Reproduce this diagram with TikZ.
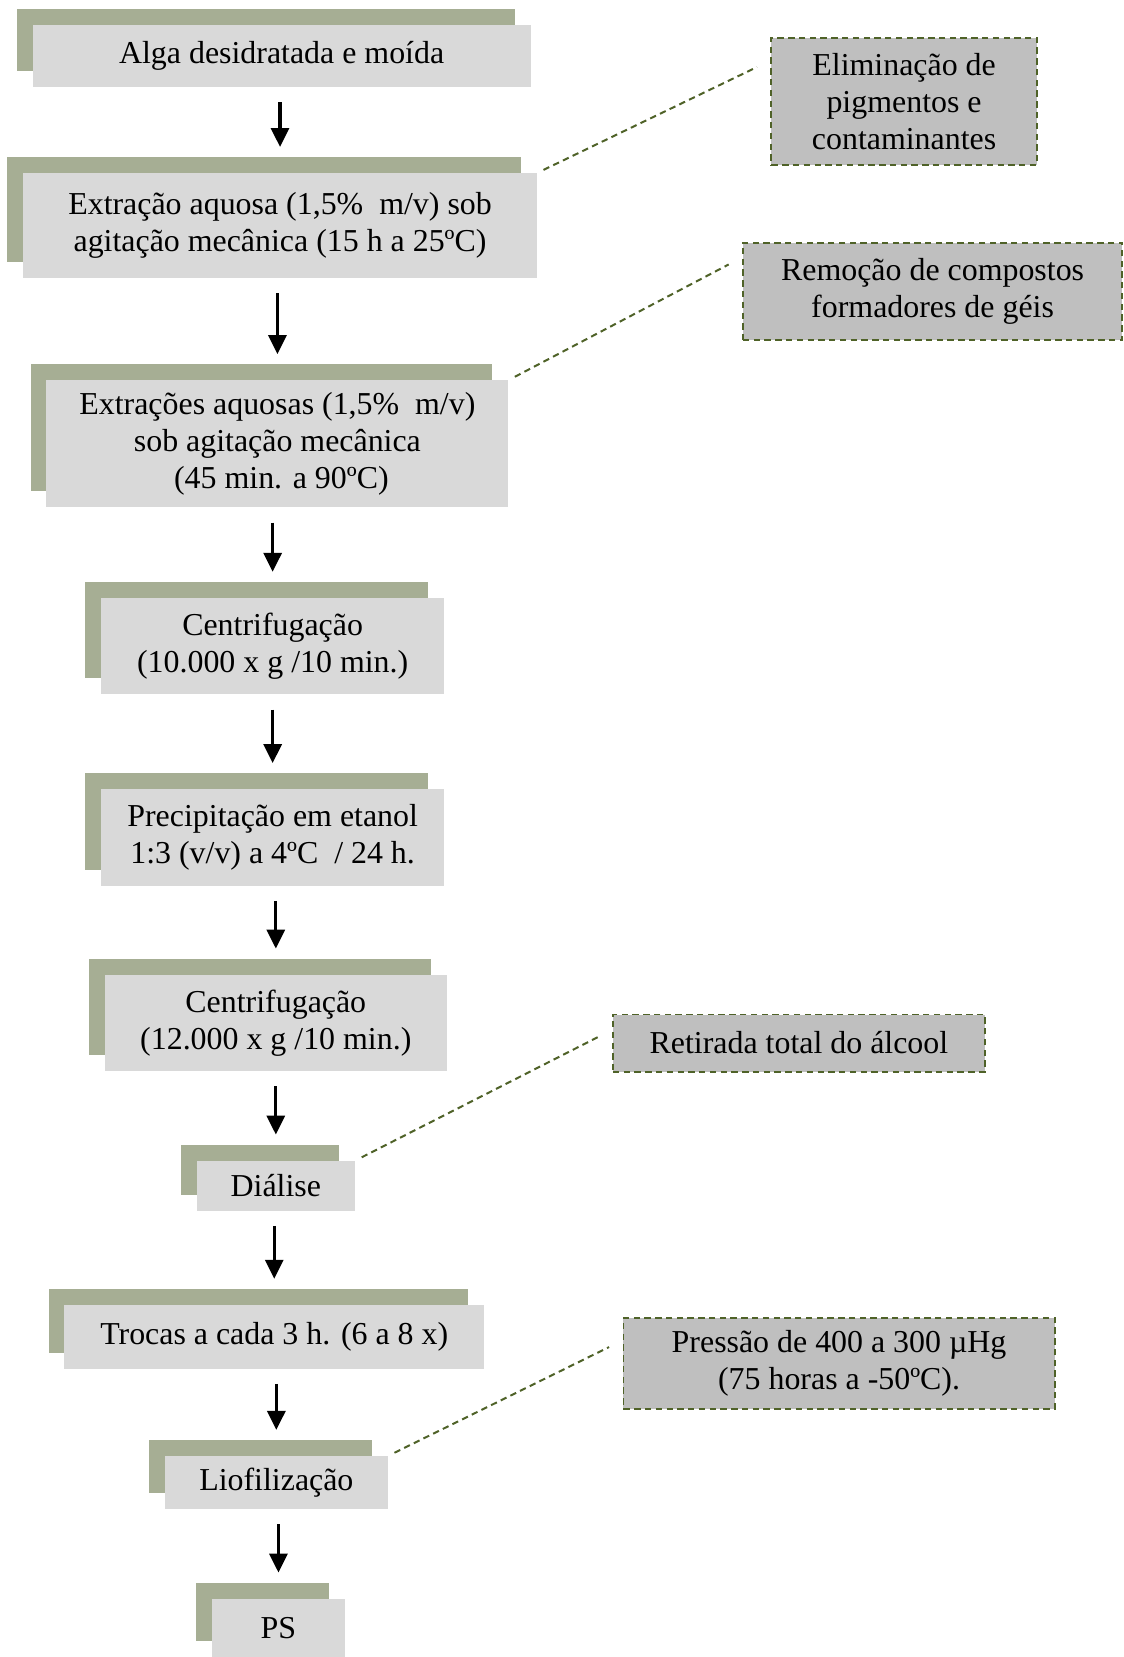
\documentclass[tikz,border=0pt]{standalone}
\usepackage{fontspec}
\setmainfont{Liberation Serif}
\usetikzlibrary{arrows.meta,shadows}
\definecolor{salvia}{RGB}{166,174,148}
\definecolor{cinzaclaro}{RGB}{217,217,217}
\definecolor{cinzanota}{RGB}{191,191,191}
\definecolor{oliva}{RGB}{79,98,40}
\newcommand{\px}{0.53pt}

\begin{document}
\begin{tikzpicture}[x=\px,y=-\px,
    etapa/.style={fill=cinzaclaro, inner sep=0pt, align=center,
      font=\fontsize{16}{18.5}\selectfont,
      copy shadow={shadow xshift=-8pt, shadow yshift=8pt, fill=salvia, draw=none}},
    nota/.style={fill=cinzanota, draw=oliva, dash pattern=on 3.2pt off 2.2pt,
      line width=1pt, inner sep=0pt, align=center,
      font=\fontsize{16}{18.5}\selectfont},
    seta/.style={-{Triangle[length=9.5pt,width=9pt]}, line width=1.6pt,
      shorten <=7.5pt, shorten >=13pt},
    ligacao/.style={draw=oliva, dash pattern=on 3.2pt off 2.2pt, line width=1pt,
      shorten <=3.5pt, shorten >=7.5pt}]
  \useasboundingbox (0,0) rectangle (1063,1568);

  % etapas
  \node[etapa, minimum width=471*\px, minimum height=58*\px] (alga) at (266.5,53)
    {Alga desidratada e moída};
  \node[etapa, minimum width=486*\px, minimum height=99*\px] (extr) at (265,213.5)
    {Extração aquosa (1,5\%\ \ m/v) sob\\agitação mecânica (15 h a 25ºC)};
  \node[etapa, minimum width=437*\px, minimum height=120*\px] (extrs) at (262.5,420)
    {Extrações aquosas (1,5\%\ \ m/v)\\sob agitação mecânica\\\ (45 min. a 90ºC)};
  \node[etapa, minimum width=324*\px, minimum height=91*\px] (centa) at (258,611.5)
    {Centrifugação\\(10.000 x g /10 min.)};
  \node[etapa, minimum width=324*\px, minimum height=91*\px] (prec) at (258,792.5)
    {Precipitação em etanol\\1:3 (v/v) a 4ºC\ \ / 24 h.};
  \node[etapa, minimum width=324*\px, minimum height=91*\px] (centb) at (261,968)
    {Centrifugação\\(12.000 x g /10 min.)};
  \node[etapa, minimum width=150*\px, minimum height=47*\px] (dial) at (261,1122)
    {Diálise};
  \node[etapa, minimum width=397*\px, minimum height=60*\px] (troc) at (259.5,1265)
    {Trocas a cada 3 h. (6 a 8 x)};
  \node[etapa, minimum width=211*\px, minimum height=50*\px] (liof) at (261.5,1403)
    {Liofilização};
  \node[etapa, minimum width=125*\px, minimum height=55*\px] (ps) at (263.5,1540.5)
    {PS};

  % notas
  \node[nota, minimum width=251*\px, minimum height=121*\px] (elim) at (855.5,96)
    {Eliminação de\\pigmentos e\\contaminantes};
  \node[nota, minimum width=359*\px, minimum height=92*\px] (remo) at (882.5,275.5)
    {Remoção de compostos\\formadores de géis};
  \node[nota, minimum width=352*\px, minimum height=54*\px] (reti) at (756,987)
    {Retirada total do álcool};
  \node[nota, minimum width=408*\px, minimum height=86*\px] (pres) at (794,1290)
    {Pressão de 400 a 300 µHg\\(75 horas a -50ºC).};

  % setas
  \foreach \a/\b in {alga/extr, extr/extrs, extrs/centa, centa/prec, prec/centb,
                     centb/dial, dial/troc, troc/liof, liof/ps}
    \draw[seta] (\b.north |- \a.south) -- (\b.north);

  % ligacoes
  \draw[ligacao] (extr.north east) -- (elim.163);
  \draw[ligacao] (extrs.north east) -- (remo.170);
  \draw[ligacao] (dial.north east) -- (reti.176);
  \draw[ligacao] (liof.north east) -- (pres.174);
\end{tikzpicture}
\end{document}
